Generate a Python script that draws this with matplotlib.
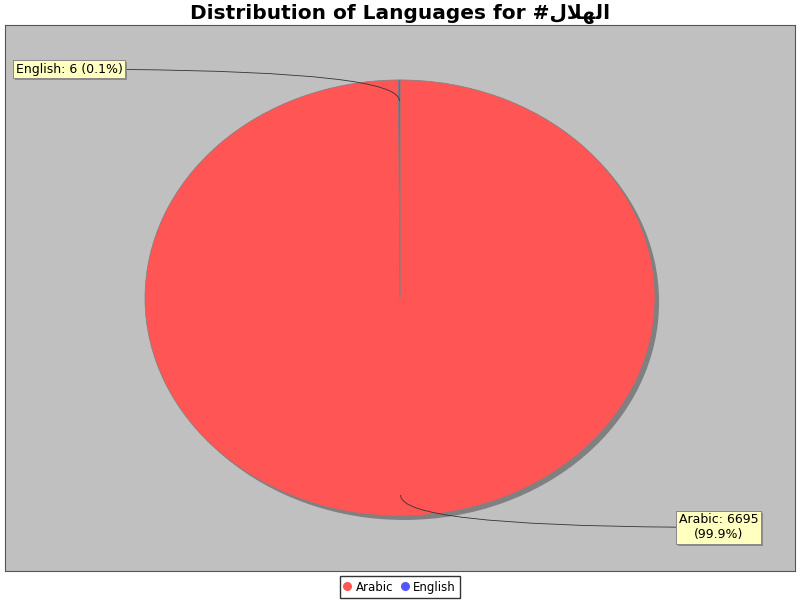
import matplotlib.pyplot as plt
import matplotlib.patheffects as pe
import numpy as np
from matplotlib.lines import Line2D

plt.rcParams["font.family"] = ["DejaVu Sans"]

languages = ["Arabic", "English"]
counts = [6695, 6]
colors = ["#FF5555", "#5555FF"]
hashtag = "\ufedd\ufefc\ufeec\ufedf\ufe8d"  # الهلال, shaped for left-to-right drawing
title = "Distribution of Languages for #" + hashtag

total = sum(counts)
labels = [f"{n}: {c} ({c / total:.1%})" for n, c in zip(languages, counts)]
labels[0] = f"{languages[0]}: {counts[0]}\n({counts[0] / total:.1%})"

fig = plt.figure(figsize=(8, 6), dpi=100)
ax = fig.add_axes([5 / 800, 29 / 600, 790 / 800, 546 / 600])

# shadow
ax.pie(counts, colors=["#808080"] * 2, startangle=90, counterclock=False,
       center=(0.016, -0.018), wedgeprops=dict(linewidth=0))
wedges, _ = ax.pie(counts, colors=colors, startangle=90, counterclock=False,
                   wedgeprops=dict(edgecolor="#808080", linewidth=0.5))
ax.set_xlim(-1.549, 1.549)
ax.set_ylim(-1.252, 1.252)
ax.set_aspect("auto")
ax.set_frame_on(True)
ax.set_facecolor("#C0C0C0")
for s in ax.spines.values():
    s.set_visible(True)
    s.set_color("#555555")
    s.set_linewidth(0.8)
ax.set_xticks([])
ax.set_yticks([])

label_pos = [(0.853, 0.08), (0.0135, 0.919)]
for w, lab, pos in zip(wedges, labels, label_pos):
    ang = np.deg2rad((w.theta1 + w.theta2) / 2)
    r = 0.905
    xy = (r * np.cos(ang), r * np.sin(ang))
    t = ax.annotate(lab, xy=xy, xycoords="data", xytext=pos, textcoords="axes fraction",
                    ha="left", va="center", multialignment="center", fontsize=9,
                    bbox=dict(boxstyle="square,pad=0.2", fc="#FFFFC0", ec="#808080", lw=0.6),
                    arrowprops=dict(arrowstyle="-", color="#333333", lw=0.6,
                                    connectionstyle="angle3,angleA=0,angleB=90",
                                    shrinkA=0, shrinkB=0))
    t.get_bbox_patch().set_path_effects([
        pe.withSimplePatchShadow(offset=(1.5, -1.5), shadow_rgbFace="#808080", alpha=0.8),
        pe.Normal()])

fig.suptitle(title, fontsize=14.5, fontweight="bold", y=0.993, va="top")

handles = [Line2D([], [], marker="o", ls="", color=c, markersize=5.5) for c in colors]
fig.legend(handles, languages, loc="lower center", bbox_to_anchor=(0.5, -0.006),
           ncol=2, fontsize=8.5, frameon=True, fancybox=False, edgecolor="black",
           handlelength=0.6, handletextpad=0.4, columnspacing=0.7, borderpad=0.35)

fig.savefig("out.png", dpi=100)
